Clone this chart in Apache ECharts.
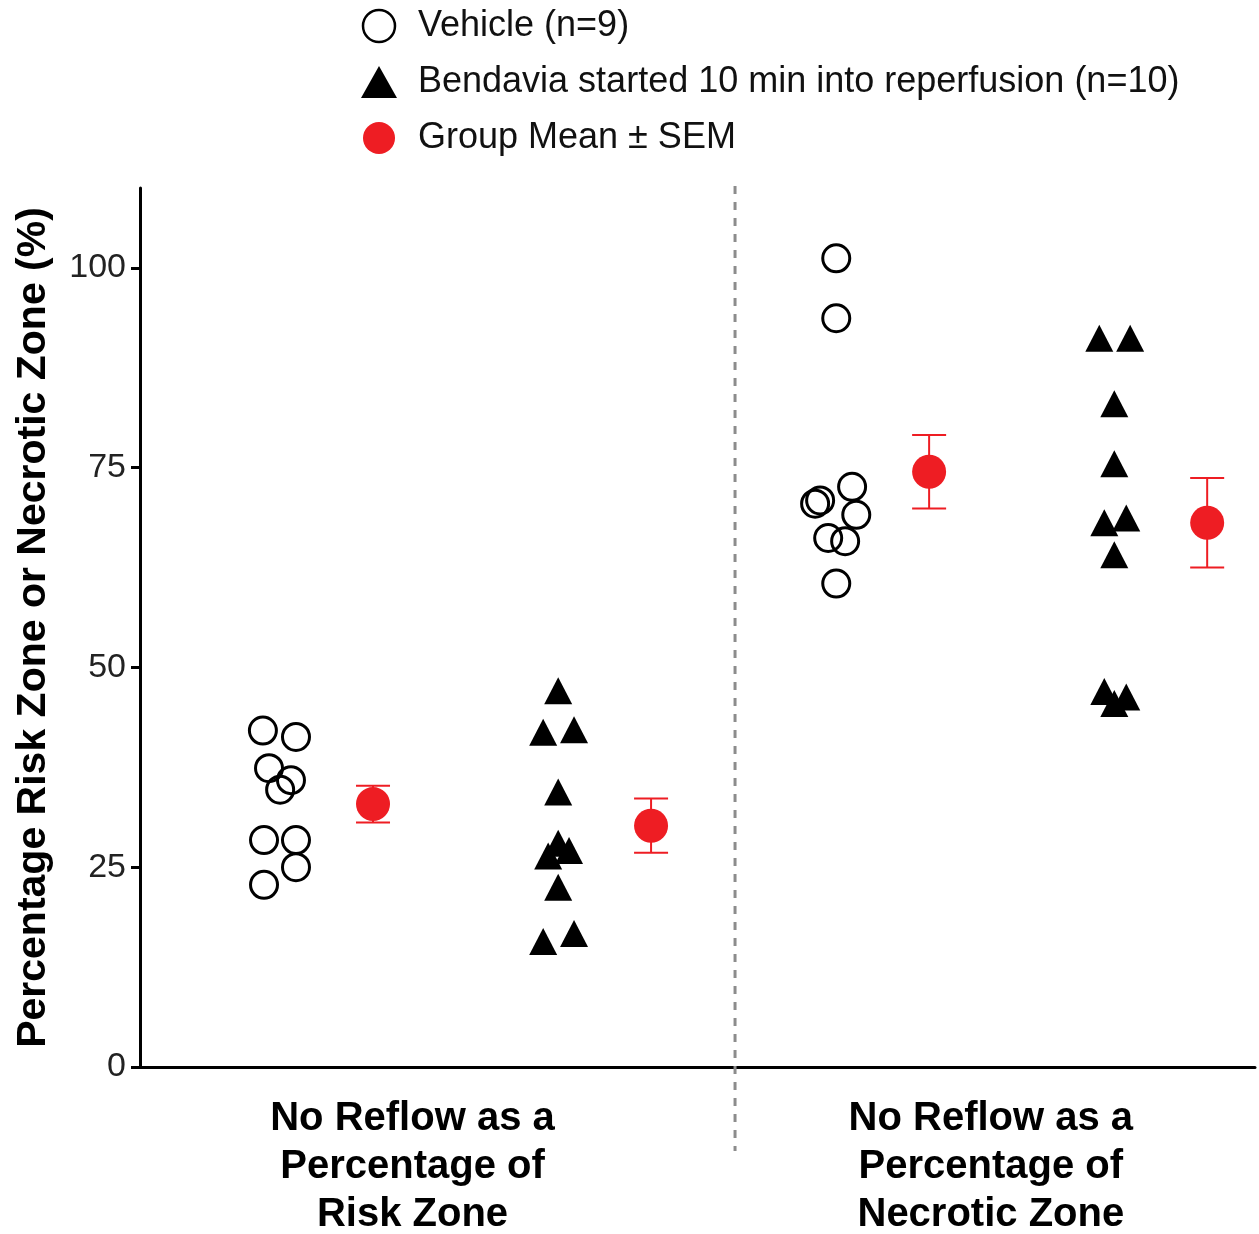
<!DOCTYPE html>
<html>
<head>
<meta charset="utf-8">
<script src="https://cdn.jsdelivr.net/npm/echarts@6/dist/echarts.min.js"></script>
<style>
  html, body { margin: 0; padding: 0; background: #fff; }
  #main { width: 1259px; height: 1234px; }
</style>
</head>
<body>
<div id="main"></div>
<script>
// column centres on the x value axis: 1,2 = risk zone, 3,4 = necrotic zone
const categories = ['No Reflow as a\nPercentage of\nRisk Zone', 'No Reflow as a\nPercentage of\nNecrotic Zone'];
const categoryPos = [1.48, 3.56];
const dividerPos = 2.64;
const meanOffset = 0.338;

// individual animals (%)
const riskVehicle = [42.1, 41.3, 37.4, 35.9, 34.7, 28.4, 28.4, 25.0, 22.8];
const riskVehicleJitter = [-0.058, 0.061, -0.036, 0.043, 0.004, -0.054, 0.061, 0.061, -0.054];
const riskBendavia = [47.1, 41.9, 42.2, 34.4, 28.0, 27.1, 26.4, 22.5, 16.7, 15.7];
const riskBendaviaJitter = [0.004, -0.05, 0.061, 0.004, 0.004, 0.043, -0.032, 0.004, 0.061, -0.05];
const necroticVehicle = [101.2, 93.7, 72.6, 70.9, 70.5, 69.1, 66.2, 65.8, 60.5];
const necroticVehicleJitter = [0.004, 0.004, 0.061, -0.054, -0.072, 0.076, -0.025, 0.036, 0.004];
const necroticBendavia = [91.2, 91.2, 83.0, 75.5, 68.7, 68.1, 64.1, 47.0, 46.3, 45.5];
const necroticBendaviaJitter = [-0.05, 0.061, 0.004, 0.004, 0.047, -0.032, 0.004, -0.032, 0.047, 0.004];

// group mean and SEM: risk vehicle, risk bendavia, necrotic vehicle, necrotic bendavia
const groupCols = [1, 2, 3, 4];
const groupMean = [32.9, 30.2, 74.5, 68.1];
const groupSem = [2.3, 3.4, 4.6, 5.6];

const yTicks = [0, 25, 50, 75, 100];

const toPoints = (col, vals, jit) => vals.map((v, i) => [col + jit[i], v]);

let vehicleData = toPoints(1, riskVehicle, riskVehicleJitter)
  .concat(toPoints(3, necroticVehicle, necroticVehicleJitter));
let bendaviaData = toPoints(2, riskBendavia, riskBendaviaJitter)
  .concat(toPoints(4, necroticBendavia, necroticBendaviaJitter));
let meanData = groupCols.map((c, i) => [c + meanOffset, groupMean[i], groupSem[i]]);

const red = '#ee1d23';
const font = 'Liberation Sans, Arial, Helvetica, sans-serif';

let chart = echarts.init(document.getElementById('main'));
let option = {
  animation: false,
  backgroundColor: '#fff',
  textStyle: { fontFamily: font },
  legend: {
    orient: 'vertical',
    left: 356,
    top: 3,
    itemWidth: 36,
    itemHeight: 32,
    itemGap: 20,
    selectedMode: false,
    textStyle: { fontSize: 36, color: '#111', lineHeight: 32, padding: [0, 0, 0, 16], fontFamily: font },
    data: [
      { name: 'Vehicle (n=9)', icon: 'circle', itemStyle: { color: '#fff', borderColor: '#000', borderWidth: 2.5 } },
      { name: 'Bendavia started 10 min into reperfusion (n=10)', icon: 'triangle' },
      { name: 'Group Mean ± SEM', icon: 'circle' }
    ]
  },
  grid: { left: 140, right: 4, top: 188, bottom: 167, outerBoundsMode: 'none', containLabel: false },
  xAxis: {
    type: 'value',
    min: 0.5,
    max: 4.51,
    splitLine: { show: false },
    axisLine: { lineStyle: { color: '#000', width: 3 } },
    axisTick: { show: false },
    axisLabel: {
      customValues: categoryPos,
      margin: 28,
      fontSize: 40,
      fontWeight: 'bold',
      lineHeight: 48,
      color: '#000',
      fontFamily: font,
      formatter: function (v) {
        let i = categoryPos.indexOf(v);
        return i >= 0 ? categories[i] : '';
      }
    }
  },
  yAxis: {
    type: 'value',
    min: 0,
    max: 110,
    name: 'Percentage Risk Zone or Necrotic Zone (%)',
    nameLocation: 'middle',
    nameGap: 86,
    nameTextStyle: { fontSize: 41, fontWeight: 'bold', color: '#000', fontFamily: font },
    splitLine: { show: false },
    axisLine: { show: true, lineStyle: { color: '#000', width: 3 } },
    axisTick: { show: true, customValues: yTicks, length: 9, lineStyle: { color: '#000', width: 3 } },
    axisLabel: { customValues: yTicks, fontSize: 34, color: '#222', margin: 14, fontFamily: font }
  },
  series: [
    {
      name: 'divider',
      type: 'custom',
      silent: true,
      data: [[dividerPos]],
      renderItem: function (params, api) {
        let top = api.coord([api.value(0), 110]);
        let bottom = api.coord([api.value(0), 0]);
        return {
          type: 'line',
          shape: { x1: top[0], y1: top[1] - 2, x2: bottom[0], y2: bottom[1] + 84 },
          style: { stroke: '#8c8c8c', lineWidth: 3, lineDash: [8, 8] }
        };
      },
      z: 1
    },
    {
      name: 'Vehicle (n=9)',
      type: 'scatter',
      symbol: 'circle',
      symbolSize: 27,
      data: vehicleData,
      itemStyle: { color: 'rgba(255,255,255,0)', borderColor: '#000', borderWidth: 3, opacity: 1 },
      z: 3
    },
    {
      name: 'Bendavia started 10 min into reperfusion (n=10)',
      type: 'scatter',
      symbol: 'triangle',
      symbolSize: [28, 27],
      data: bendaviaData,
      itemStyle: { color: '#000', opacity: 1 },
      z: 3
    },
    {
      name: 'sem',
      type: 'custom',
      silent: true,
      data: meanData,
      renderItem: function (params, api) {
        let x = api.value(0), m = api.value(1), s = api.value(2);
        let hi = api.coord([x, m + s]);
        let lo = api.coord([x, m - s]);
        let hw = 17;
        let st = { stroke: red, lineWidth: 2 };
        return {
          type: 'group',
          children: [
            { type: 'line', shape: { x1: hi[0], y1: hi[1], x2: lo[0], y2: lo[1] }, style: st },
            { type: 'line', shape: { x1: hi[0] - hw, y1: hi[1], x2: hi[0] + hw, y2: hi[1] }, style: st },
            { type: 'line', shape: { x1: lo[0] - hw, y1: lo[1], x2: lo[0] + hw, y2: lo[1] }, style: st }
          ]
        };
      },
      z: 4
    },
    {
      name: 'Group Mean ± SEM',
      type: 'scatter',
      symbol: 'circle',
      symbolSize: 34,
      data: meanData,
      itemStyle: { color: red, opacity: 1 },
      z: 5
    }
  ]
};
option && chart.setOption(option);
</script>
</body>
</html>
